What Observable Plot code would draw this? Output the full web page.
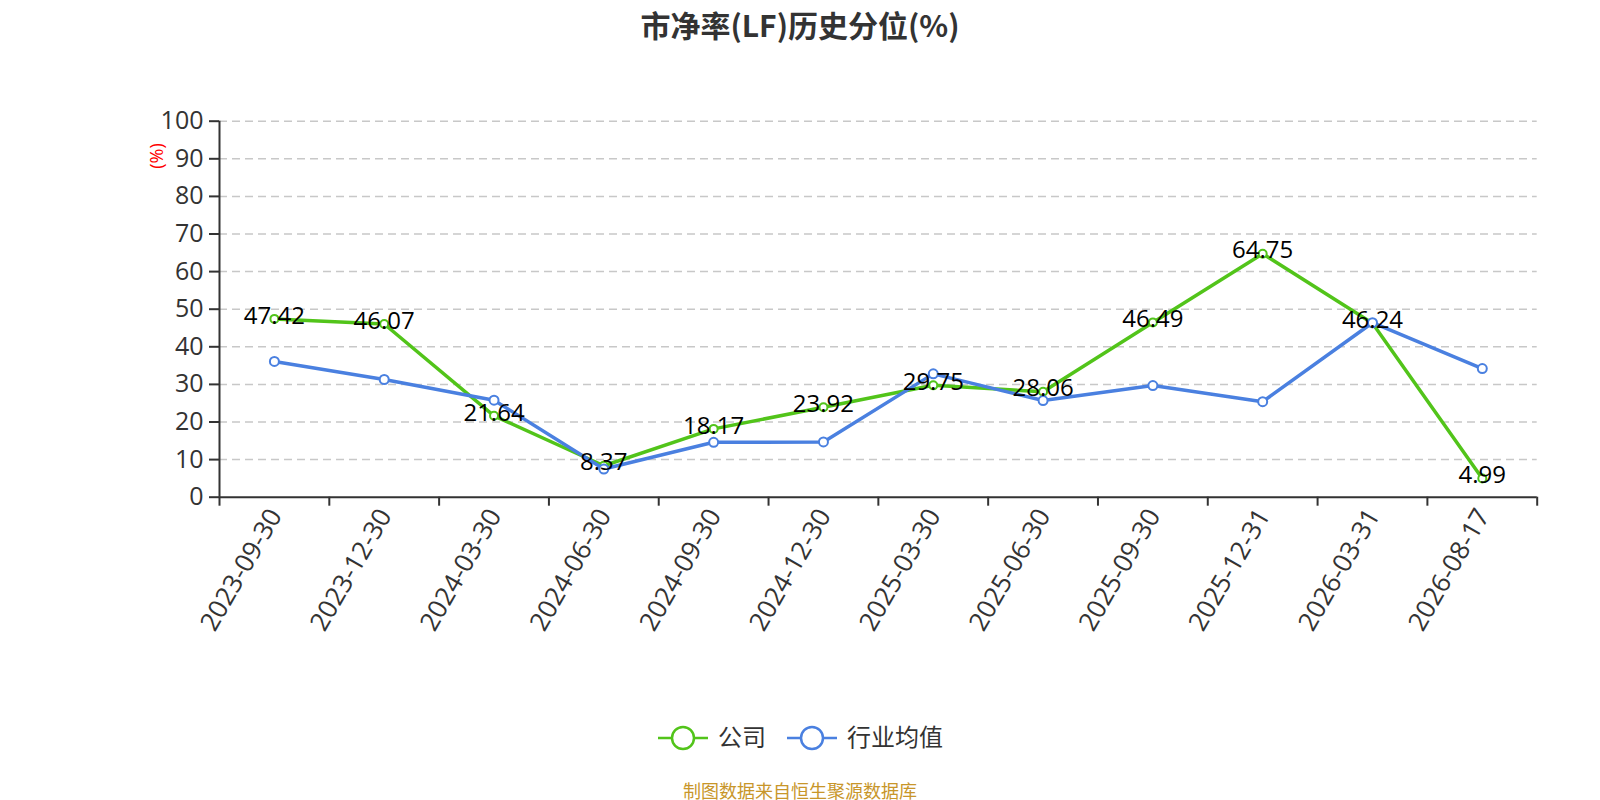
<!DOCTYPE html>
<html>
<head>
<meta charset="utf-8">
<script src="https://cdn.jsdelivr.net/npm/d3@7"></script>
<script src="https://cdn.jsdelivr.net/npm/@observablehq/plot@0.6"></script>
<style>
  body { margin: 0; background: #fff; }
  #wrap { position: relative; width: 1600px; height: 800px; font-family: "Open Sans", "Noto Sans CJK SC", sans-serif; }
  #title { position: absolute; left: 0; width: 1600px; top: 2px; text-align: center; font-size: 30px; font-weight: bold; color: #333; font-family: "Noto Sans CJK SC", "Open Sans", sans-serif; }
  #ylab { position: absolute; left: 156px; top: 156px; transform: translate(-50%, -50%) rotate(-90deg); color: red; font-size: 18px; white-space: nowrap; }
  #legend { position: absolute; left: 0; top: 708px; width: 1600px; height: 60px; overflow: visible; }
  #source { position: absolute; left: 0; width: 1600px; top: 777px; text-align: center; font-size: 18px; color: #c8962a; font-family: "Noto Sans CJK SC", sans-serif; }
  #chart { position: absolute; left: 0; top: 0; }
</style>
</head>
<body>
<div id="wrap">
  <div id="chart"></div>
  <div id="title">市净率(LF)历史分位(%)</div>
  <div id="ylab">(%)</div>
  <svg id="legend" width="1600" height="60"></svg>
  <div id="source">制图数据来自恒生聚源数据库</div>
</div>
<script>
const categories = ["2023-09-30","2023-12-30","2024-03-30","2024-06-30","2024-09-30","2024-12-30","2025-03-30","2025-06-30","2025-09-30","2025-12-31","2026-03-31","2026-08-17"];
const companyValues = [47.42, 46.07, 21.64, 8.37, 18.17, 23.92, 29.75, 28.06, 46.49, 64.75, 46.24, 4.99];
const industryValues = [36.1, 31.3, 25.8, 7.5, 14.6, 14.7, 32.8, 25.7, 29.7, 25.4, 46.4, 34.2];
const yTicks = [0, 10, 20, 30, 40, 50, 60, 70, 80, 90, 100];
const seriesNames = ["公司", "行业均值"];
const colors = ["#52c41a", "#4a80e0"];

const company = categories.map((c, i) => ({i, c, v: companyValues[i]}));
const industry = categories.map((c, i) => ({i, c, v: industryValues[i]}));
const cats = categories.map((c, i) => ({i, c}));
const font = "'Open Sans', 'Noto Sans CJK SC', sans-serif";

const chart = Plot.plot({
  width: 1600,
  height: 800,
  marginLeft: 219,
  marginRight: 63.3,
  marginTop: 120.7,
  marginBottom: 303.3,
  style: {fontFamily: font, background: "transparent", overflow: "visible"},
  x: {type: "linear", domain: [0, categories.length], axis: null},
  y: {domain: [0, 100], axis: null},
  marks: [
    Plot.gridY(yTicks.filter(d => d > 0), {stroke: "#c8c8c8", strokeOpacity: 1, strokeWidth: 1.5, strokeDasharray: "8,5"}),
    Plot.axisY(yTicks, {tickSize: 10, tickPadding: 6, fontSize: 25, color: "#333", stroke: "#333", strokeWidth: 2, label: null, anchor: "left"}),
    Plot.axisX(d3.range(categories.length + 1), {tickSize: 9, tickFormat: () => "", stroke: "#333", strokeWidth: 2, label: null, anchor: "bottom"}),
    Plot.ruleY([0], {stroke: "#333", strokeWidth: 2}),
    Plot.ruleX([0], {stroke: "#333", strokeWidth: 2}),
    Plot.text(cats, {x: d => d.i + 0.5, y: 0, text: d => d.c, rotate: -60, textAnchor: "end", dx: 1, dy: 14, fontSize: 26, fill: "#333"}),
    Plot.line(company, {x: d => d.i + 0.5, y: "v", stroke: colors[0], strokeWidth: 3.5}),
    Plot.dot(company, {x: d => d.i + 0.5, y: "v", r: 4, fill: "white", stroke: colors[0], strokeWidth: 2}),
    Plot.line(industry, {x: d => d.i + 0.5, y: "v", stroke: colors[1], strokeWidth: 3.5}),
    Plot.dot(industry, {x: d => d.i + 0.5, y: "v", r: 4.5, fill: "white", stroke: colors[1], strokeWidth: 2}),
    Plot.text(company, {x: d => d.i + 0.5, y: "v", text: d => d.v.toFixed(2), dy: -3, fontSize: 24, fill: "#000"})
  ]
});
document.getElementById("chart").appendChild(chart);

// legend
const leg = d3.select("#legend");
const items = [{x: 658, text: seriesNames[0], color: colors[0]}, {x: 787, text: seriesNames[1], color: colors[1]}];
const cy = 30;
for (const it of items) {
  const g = leg.append("g");
  g.append("line").attr("x1", it.x).attr("x2", it.x + 50).attr("y1", cy).attr("y2", cy).attr("stroke", it.color).attr("stroke-width", 2.5);
  g.append("circle").attr("cx", it.x + 25).attr("cy", cy).attr("r", 11).attr("fill", "white").attr("stroke", it.color).attr("stroke-width", 2.5);
  g.append("text").attr("x", it.x + 60).attr("y", cy).attr("dy", "0.35em").attr("font-size", 24).attr("fill", "#333")
    .attr("font-family", "'Noto Sans CJK SC', sans-serif").text(it.text);
}
</script>
</body>
</html>
